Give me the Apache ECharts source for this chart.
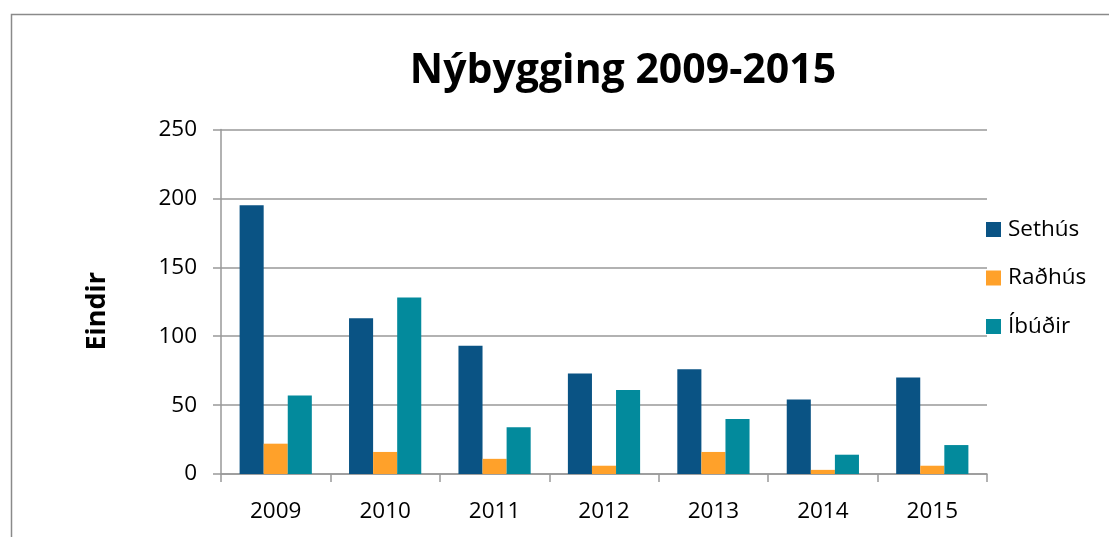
<!DOCTYPE html>
<html>
<head>
<meta charset="utf-8">
<script src="https://cdn.jsdelivr.net/npm/echarts@6/dist/echarts.min.js"></script>
<style>html,body{margin:0;padding:0;background:#fff;}#c{width:1109px;height:537px;}</style>
</head>
<body>
<div id="c"></div>
<script>
const title = 'Nýbygging 2009-2015';
const yAxisName = 'Eindir';
const categories = ['2009','2010','2011','2012','2013','2014','2015'];
const seriesNames = ['Sethús','Raðhús','Íbúðir'];
const sethus = [195,113,93,73,76,54,70];
const radhus = [22,16,11,6,16,3,6];
const ibudir = [57,128,34,61,40,14,21];
const colors = ['#0A5384','#FFA12A','#038A9C'];

const FONT = '"Open Sans", sans-serif';
const chart = echarts.init(document.getElementById('c'), null, {renderer:'canvas'});
chart.setOption({
  animation:false,
  backgroundColor:'#fff',
  color: colors,
  title:{text:title,left:618,textAlign:'center',top:46,
    textStyle:{fontFamily:FONT,fontWeight:'bold',fontSize:41,color:'#000'}},
  graphic:[{type:'rect',left:9,top:12,shape:{width:1200,height:700},
    style:{fill:'none',stroke:'#8a8a8a',lineWidth:1.5},silent:true}],
  legend:{orient:'vertical',left:986,top:218,padding:0,itemWidth:15,itemHeight:15,itemGap:25.5,
    icon:'rect',textStyle:{fontFamily:FONT,fontSize:22.5,color:'#000',padding:[0,0,0,2]},
    data:seriesNames},
  grid:{left:221,right:122,top:129.5,bottom:63,containLabel:false},
  xAxis:{type:'category',data:categories,
    axisLine:{lineStyle:{color:'#999',width:1.5}},
    axisTick:{show:true,length:8,lineStyle:{color:'#999',width:1.5}},
    axisLabel:{fontFamily:FONT,fontSize:22.5,color:'#000',margin:26}},
  yAxis:{type:'value',min:0,max:250,interval:50,
    name:yAxisName,nameLocation:'middle',nameGap:110,nameRotate:90,
    nameTextStyle:{fontFamily:FONT,fontWeight:'bold',fontSize:27,color:'#000',padding:[0,19,0,0]},
    axisLine:{show:true,lineStyle:{color:'#999',width:1.5}},
    axisTick:{show:true,length:8,lineStyle:{color:'#999',width:1.5}},
    splitLine:{lineStyle:{color:'#999',width:1.5}},
    axisLabel:{fontFamily:FONT,fontSize:22.5,color:'#000',margin:24}},
  series:[
    {name:seriesNames[0],type:'bar',data:sethus,barGap:'0%',barCategoryGap:'34%'},
    {name:seriesNames[1],type:'bar',data:radhus,barGap:'0%',barCategoryGap:'34%'},
    {name:seriesNames[2],type:'bar',data:ibudir,barGap:'0%',barCategoryGap:'34%'}
  ]
});
</script>
</body>
</html>
